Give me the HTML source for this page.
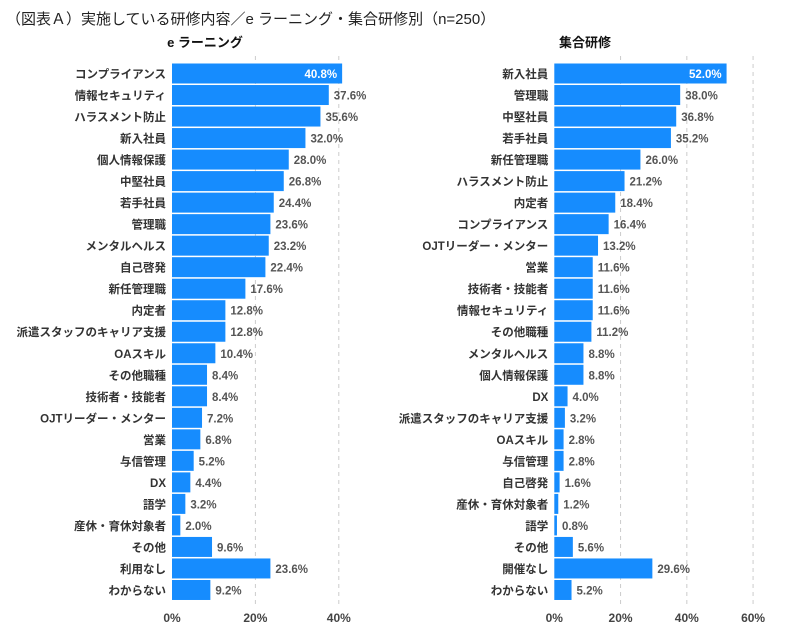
<!DOCTYPE html>
<html><head><meta charset="utf-8">
<style>
body{margin:0;background:#fff;width:795px;height:631px;overflow:hidden;font-family:"Liberation Sans","Noto Sans CJK JP",sans-serif;}
svg text{font-family:"Liberation Sans","Noto Sans CJK JP",sans-serif;}
</style></head><body>
<svg id="c" width="795" height="631" xmlns="http://www.w3.org/2000/svg">
<text x="6" y="24" font-size="15" fill="#222">（図表Ａ）実施している研修内容／e ラーニング・集合研修別（n=250）</text>
</svg>
<script>
const leftCats=["コンプライアンス","情報セキュリティ","ハラスメント防止","新入社員","個人情報保護","中堅社員","若手社員","管理職","メンタルヘルス","自己啓発","新任管理職","内定者","派遣スタッフのキャリア支援","OAスキル","その他職種","技術者・技能者","OJTリーダー・メンター","営業","与信管理","DX","語学","産休・育休対象者","その他","利用なし","わからない"];
const leftVals=[40.8,37.6,35.6,32.0,28.0,26.8,24.4,23.6,23.2,22.4,17.6,12.8,12.8,10.4,8.4,8.4,7.2,6.8,5.2,4.4,3.2,2.0,9.6,23.6,9.2];
const rightCats=["新入社員","管理職","中堅社員","若手社員","新任管理職","ハラスメント防止","内定者","コンプライアンス","OJTリーダー・メンター","営業","技術者・技能者","情報セキュリティ","その他職種","メンタルヘルス","個人情報保護","DX","派遣スタッフのキャリア支援","OAスキル","与信管理","自己啓発","産休・育休対象者","語学","その他","開催なし","わからない"];
const rightVals=[52.0,38.0,36.8,35.2,26.0,21.2,18.4,16.4,13.2,11.6,11.6,11.6,11.2,8.8,8.8,4.0,3.2,2.8,2.8,1.6,1.2,0.8,5.6,29.6,5.2];
const leftTicks=[0,20,40];
const rightTicks=[0,20,40,60];
const svg=document.getElementById('c');
const NS="http://www.w3.org/2000/svg";
function mk(t,a){const e=document.createElementNS(NS,t);for(const k in a)e.setAttribute(k,a[k]);svg.appendChild(e);return e;}
function panel(name,title,titleX,cats,vals,ticks,x0,pxPer){
  const xs=v=>x0+v*pxPer;
  const ys=i=>63.5+i*21.52;
  const t=mk('text',{x:titleX,y:47,'font-size':13,'font-weight':'bold',fill:'#111','text-anchor':'middle'});t.textContent=title;
  
  
  ticks.forEach(v=>{
    if(v>0){const g=mk('line',{x1:xs(v),x2:xs(v),y1:56,y2:604,stroke:'#ccc','stroke-dasharray':'4,4'});
    
    }
    const l=mk('text',{x:xs(v),y:622,'font-size':12,'font-weight':'bold',fill:'#444','text-anchor':'middle'});l.textContent=v+'%';
    
    
  });
  const mx=Math.max(...vals);
  cats.forEach((c,i)=>{
    const y=ys(i);
    const r=mk('rect',{x:x0,y:y,width:xs(vals[i])-x0,height:20,fill:'#168cfe'});
    
    
    const lb=mk('text',{x:x0-6,y:y+14.5,'font-size':11.5,'font-weight':'bold',fill:'#333','text-anchor':'end'});lb.textContent=c;
    
    
    const inside=vals[i]===mx;
    const vl=mk('text',{x:inside?xs(vals[i])-5:xs(vals[i])+5,y:y+14.5,'font-size':11.5,'font-weight':'bold',fill:inside?'#fff':'#555','text-anchor':inside?'end':'start'});
    vl.textContent=vals[i].toFixed(1)+'%';
    
    
  });
}
panel('elearning','e ラーニング',205,leftCats,leftVals,leftTicks,172,4.17);
panel('group-training','集合研修',585,rightCats,rightVals,rightTicks,554.3,3.313);
</script>
</body></html>
